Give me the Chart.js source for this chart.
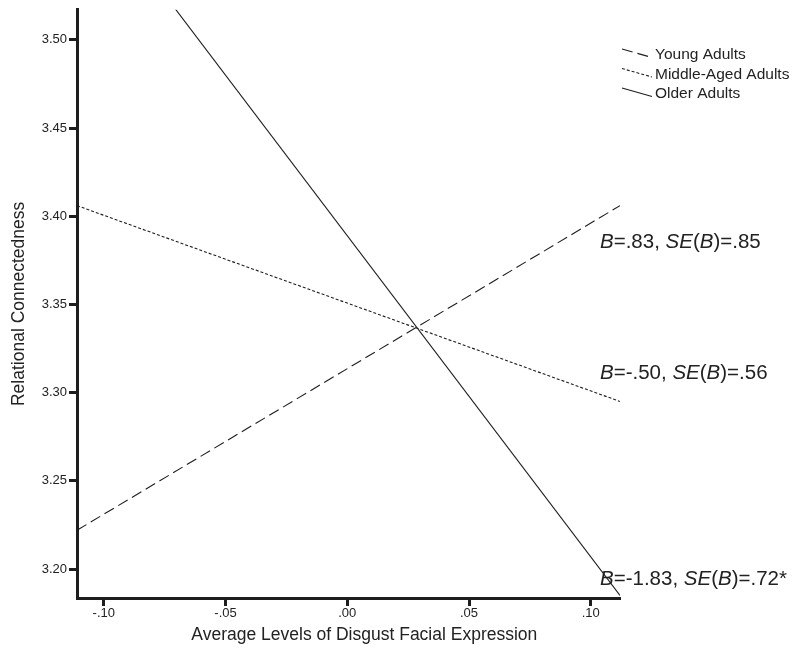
<!DOCTYPE html>
<html>
<head>
<meta charset="utf-8">
<script src="https://cdn.jsdelivr.net/npm/chart.js@4/dist/chart.umd.min.js"></script>
<style>
  html, body { margin: 0; padding: 0; background: #ffffff; }
  #wrap { width: 812px; height: 651px; }
</style>
</head>
<body>
<div id="wrap"><canvas id="c" width="812" height="651"></canvas></div>
<script>
// ---- data ----
const xEnds = [-0.111, 0.112];              // x range covered by each regression line
const youngAdults = [3.222, 3.406];
const middleAgedAdults = [3.406, 3.295];
const olderAdults = [3.591, 3.185];
const seriesNames = ['Young Adults', 'Middle-Aged Adults', 'Older Adults'];

const xTickValues = [-0.10, -0.05, 0.00, 0.05, 0.10];
const xTickLabels = ['-.10', '-.05', '.00', '.05', '.10'];
const yTickValues = [3.20, 3.25, 3.30, 3.35, 3.40, 3.45, 3.50];
const yTickLabels = ['3.20', '3.25', '3.30', '3.35', '3.40', '3.45', '3.50'];
const xRange = [-0.111, 0.112];
const yRange = [3.1836, 3.517];

const xTitle = 'Average Levels of Disgust Facial Expression';
const yTitle = 'Relational Connectedness';

// slope annotations: [text, italic] pieces, anchored at a y value
const slopeLabels = [
  [['B', true], ['=.83, ', false], ['SE', true], ['(', false], ['B', true], [')=.85', false]],
  [['B', true], ['=-.50, ', false], ['SE', true], ['(', false], ['B', true], [')=.56', false]],
  [['B', true], ['=-1.83, ', false], ['SE', true], ['(', false], ['B', true], [')=.72*', false]]
];
const slopeLabelY = [3.385, 3.311, 3.194];
const slopeLabelX = 0.1038;
const xTitleCenter = 0.007;   // x value under the centre of the x-axis title

const FONT = '"Liberation Sans", Arial, Helvetica, sans-serif';
const INK = '#1e1e1e';
const TXT = '#222222';

const toPts = (ys) => xEnds.map((x, i) => ({ x: x, y: ys[i] }));

const styles = [
  { borderDash: [11, 5] },
  { borderDash: [3, 2] },
  { borderDash: [] }
];

const overlay = {
  id: 'overlay',
  afterDatasetsDraw(chart) {
    const ctx = chart.ctx;
    const xs = chart.scales.x, ys = chart.scales.y;
    ctx.save();
    // legend with slanted line samples
    const lx0 = 622, lx1 = 652, lyStart = 55, lstep = 19.5;
    seriesNames.forEach((name, i) => {
      const cy = lyStart + i * lstep;
      ctx.beginPath();
      ctx.strokeStyle = INK;
      ctx.lineWidth = 1.1;
      ctx.setLineDash(styles[i].borderDash);
      ctx.moveTo(lx0, cy - 6);
      ctx.lineTo(lx1, cy + 2.5);
      ctx.stroke();
      ctx.setLineDash([]);
      ctx.fillStyle = TXT;
      ctx.font = '15.5px ' + FONT;
      ctx.textBaseline = 'middle';
      ctx.textAlign = 'left';
      ctx.fillText(name, 655, cy);
    });
    // slope annotations
    slopeLabels.forEach((parts, i) => {
      let x = xs.getPixelForValue(slopeLabelX);
      const y = ys.getPixelForValue(slopeLabelY[i]);
      ctx.textBaseline = 'middle';
      ctx.textAlign = 'left';
      ctx.fillStyle = TXT;
      parts.forEach(([t, it]) => {
        ctx.font = (it ? 'italic ' : '') + '20.5px ' + FONT;
        ctx.fillText(t, x, y);
        x += ctx.measureText(t).width;
      });
    });
    // x-axis title (centred as in the reference, slightly right of the axis centre)
    ctx.font = '17.5px ' + FONT;
    ctx.textAlign = 'center';
    ctx.textBaseline = 'middle';
    ctx.fillStyle = TXT;
    ctx.fillText(xTitle, xs.getPixelForValue(xTitleCenter), chart.height - 16);
    ctx.restore();
  }
};

const axisCommon = {
  grid: { display: true, drawOnChartArea: false, drawTicks: true, tickLength: 8, tickWidth: 3, tickColor: INK },
  border: { display: true, color: INK, width: 3 }
};

new Chart(document.getElementById('c'), {
  type: 'scatter',
  data: {
    datasets: [youngAdults, middleAgedAdults, olderAdults].map((d, i) => ({
      label: seriesNames[i],
      data: toPts(d),
      showLine: true,
      borderColor: INK,
      borderWidth: 1.1,
      borderDash: styles[i].borderDash,
      pointRadius: 0,
      pointHoverRadius: 0,
      fill: false
    }))
  },
  options: {
    responsive: false,
    animation: false,
    events: [],
    layout: { padding: { top: 9, right: 192, bottom: 0, left: 0 } },
    plugins: { legend: { display: false }, tooltip: { enabled: false } },
    scales: {
      x: {
        type: 'linear',
        min: xRange[0], max: xRange[1],
        ...axisCommon,
        afterBuildTicks: (s) => { s.ticks = xTickValues.map(v => ({ value: v })); },
        afterFit: (s) => { s.height = 53; },
        ticks: {
          color: TXT, padding: 0, maxRotation: 0, autoSkip: false,
          font: { family: FONT, size: 13 },
          callback: (v) => { const k = xTickValues.findIndex(t => Math.abs(t - v) < 1e-9); return k >= 0 ? xTickLabels[k] : ''; }
        },
        title: { display: false }
      },
      y: {
        type: 'linear',
        min: yRange[0], max: yRange[1],
        ...axisCommon,
        afterBuildTicks: (s) => { s.ticks = yTickValues.map(v => ({ value: v })); },
        afterFit: (s) => { s.width = 77; },
        ticks: {
          color: TXT, padding: 2, autoSkip: false,
          font: { family: FONT, size: 13 },
          callback: (v) => { const k = yTickValues.findIndex(t => Math.abs(t - v) < 1e-9); return k >= 0 ? yTickLabels[k] : ''; }
        },
        title: { display: true, text: yTitle, color: TXT, font: { family: FONT, size: 17.5 }, padding: { top: 9, bottom: 2 } }
      }
    }
  },
  plugins: [overlay]
});
</script>
</body>
</html>
